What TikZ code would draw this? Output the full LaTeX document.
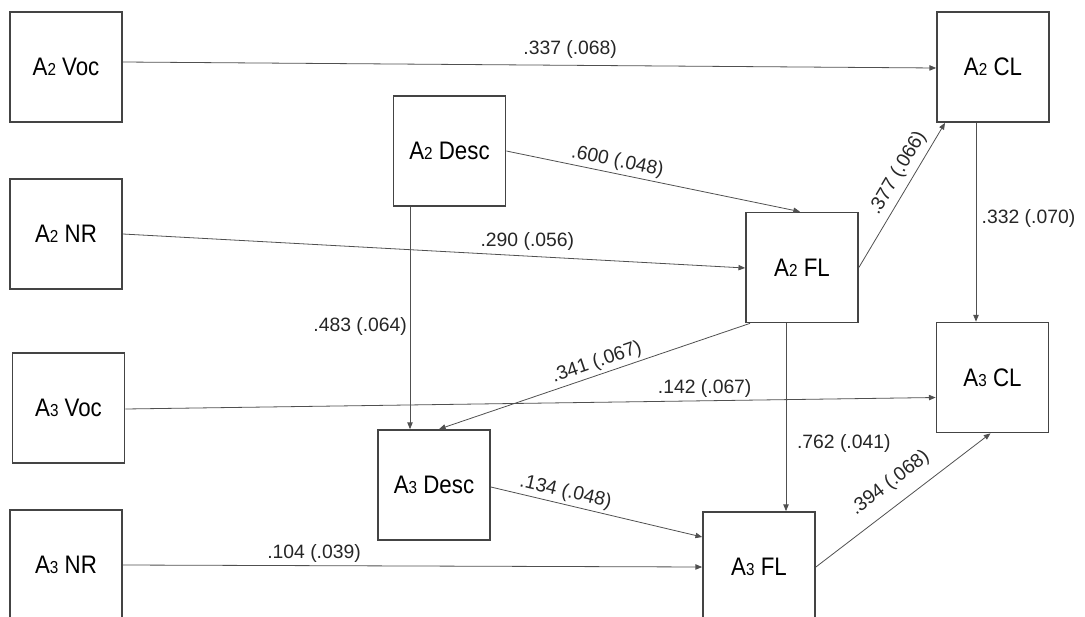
\documentclass[tikz,border=0pt]{standalone}
\usepackage{fontspec}
\setmainfont{Liberation Sans}
\newfontfamily\condfont[FakeStretch=0.88]{Liberation Sans}
\usetikzlibrary{arrows.meta,calc}
\definecolor{boxc}{HTML}{444444}
\definecolor{linec}{HTML}{505050}
\newcommand{\Asub}[1]{A{\fontsize{13}{13}\selectfont #1}}
\begin{document}
\begin{tikzpicture}[x=0.75pt,y=-0.75pt,
  box/.style={draw=boxc, line width=1.3pt, fill=white, minimum width=84pt,
    minimum height=82.5pt, inner sep=0pt, font=\condfont\fontsize{19}{21}\selectfont},
  arr/.style={draw=linec, line width=0.6pt, -{Triangle[length=5pt,width=4pt]}},
  lbl/.style={font=\fontsize{14.5}{16}\selectfont, inner sep=2pt, text=black!85}]
\useasboundingbox (0,0) rectangle (1085,617);
\clip (0,0) rectangle (1085,617);
% nodes
\node[box] (v2) at (66,67) {\Asub{2} Voc};
\node[box] (d2) at (449.5,151) {\Asub{2} Desc};
\node[box] (n2) at (66,234) {\Asub{2} NR};
\node[box] (f2) at (802,267.5) {\Asub{2} FL};
\node[box] (c2) at (993,67) {\Asub{2} CL};
\node[box] (c3) at (992.5,377.5) {\Asub{3} CL};
\node[box] (v3) at (68.5,408) {\Asub{3} Voc};
\node[box] (d3) at (434,485) {\Asub{3} Desc};
\node[box] (f3) at (759,567) {\Asub{3} FL};
\node[box] (n3) at (66,565) {\Asub{3} NR};
% connectors
\draw[arr] ($(v2.east)+(0,-5)$) -- ($(c2.west)+(0,1)$)
  node[lbl,pos=0.55,above=3pt]{.337 (.068)};
\draw[arr] (d2.east) -- ($(f2.north)+(-2,0)$)
  node[lbl,pos=0.37,sloped,above]{.600 (.048)};
\draw[arr] (n2.east) -- ($(f2.west)+(0,0.5)$)
  node[lbl,pos=0.65,above=2pt]{.290 (.056)};
\draw[arr] ($(d2.south)+(-39.5,0)$) -- ($(d3.north)+(-24,0)$)
  node[lbl,pos=0.54,left]{.483 (.064)};
\draw[arr] ($(f2.south)+(-52,0)$) -- ($(d3.north)+(5,0)$)
  node[lbl,pos=0.48,sloped,above=0pt]{.341 (.067)};
\draw[arr] (f2.east) -- ($(c2.south)+(-48,0)$)
  node[lbl,pos=0.6,sloped,above=2pt]{.377 (.066)};
\draw[arr] ($(c2.south)+(-17,0)$) -- ($(c3.north)+(-16.5,0)$)
  node[lbl,pos=0.48,right=2pt]{.332 (.070)};
\draw[arr] ($(v3.east)+(0,1)$) -- ($(c3.west)+(0,20)$)
  node[lbl,pos=0.715,above=0pt]{.142 (.067)};
\draw[arr] ($(f2.south)+(-16,0)$) -- ($(f3.north)+(27,0)$)
  node[lbl,pos=0.64,right=6pt]{.762 (.041)};
\draw[arr] ($(d3.east)+(0,2)$) -- ($(f3.west)+(0,-30)$)
  node[lbl,pos=0.34,sloped,above=0pt]{.134 (.048)};
\draw[arr] (n3.east) -- (f3.west)
  node[lbl,pos=0.33,above=0pt]{.104 (.039)};
\draw[arr] (f3.east) -- ($(c3.south)+(-2,0)$)
  node[lbl,pos=0.5,sloped,above=7pt]{.394 (.068)};
\end{tikzpicture}
\end{document}
